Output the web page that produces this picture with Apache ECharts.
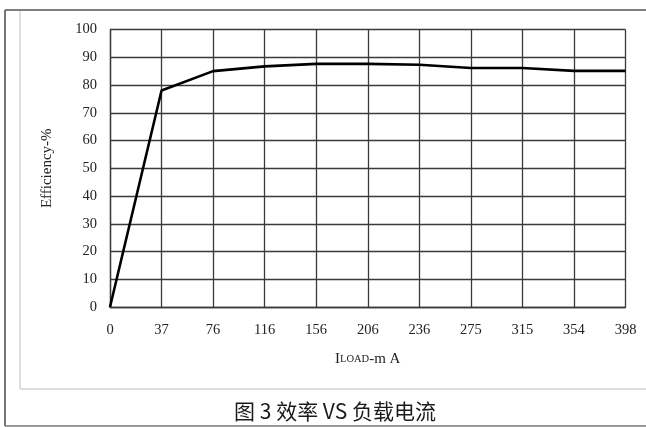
<!DOCTYPE html>
<html>
<head>
<meta charset="utf-8">
<script src="https://cdn.jsdelivr.net/npm/echarts@6/dist/echarts.min.js"></script>
<style>
html,body{margin:0;padding:0;background:#fff;}
#chart{width:646px;height:427px;}
</style>
</head>
<body>
<div id="chart"></div>
<script>
var loadCategories = ['0', '37', '76', '116', '156', '206', '236', '275', '315', '354', '398'];
var efficiencyValues = [0, 78, 85, 86.7, 87.6, 87.6, 87.3, 86.1, 86.1, 85.1, 85.1];
var yTicks = { min: 0, max: 100, interval: 10 };
var yAxisTitle = 'Efficiency-%';
var caption = '图 3 效率 VS 负载电流';

var chart = echarts.init(document.getElementById('chart'), null, { renderer: 'canvas' });
var serif = '"Liberation Serif", "DejaVu Serif", serif';
var gridColor = '#3a3a3a';

chart.setOption({
  backgroundColor: '#ffffff',
  animation: false,
  grid: { left: 110, right: 20.5, top: 29.5, bottom: 120, containLabel: false },
  xAxis: {
    type: 'category',
    data: loadCategories,
    boundaryGap: false,
    axisLine: { show: true, lineStyle: { color: gridColor, width: 1.3 } },
    axisTick: { show: false },
    axisLabel: { color: '#222', fontFamily: serif, fontSize: 14.5, margin: 16, interval: 0 },
    splitLine: { show: true, lineStyle: { color: gridColor, width: 1.3 } },
    name: '{a|I}{b|LOAD}{a|-m A}',
    nameLocation: 'middle',
    nameGap: 45,
    nameTextStyle: {
      rich: {
        a: { fontFamily: serif, fontSize: 15, color: '#222' },
        b: { fontFamily: serif, fontSize: 10.5, color: '#222' }
      }
    }
  },
  yAxis: {
    type: 'value',
    min: yTicks.min,
    max: yTicks.max,
    interval: yTicks.interval,
    axisLine: { show: true, lineStyle: { color: gridColor, width: 1.3 } },
    axisTick: { show: false },
    axisLabel: { color: '#222', fontFamily: serif, fontSize: 14.5, margin: 13 },
    splitLine: { show: true, lineStyle: { color: gridColor, width: 1.3 } },
    name: yAxisTitle,
    nameLocation: 'middle',
    nameGap: 55,
    nameRotate: 90,
    nameTextStyle: { fontFamily: serif, fontSize: 15, color: '#222' }
  },
  series: [{
    type: 'line',
    data: efficiencyValues,
    symbol: 'none',
    lineStyle: { color: '#000', width: 2.6 },
    z: 5
  }],
  graphic: [
    { type: 'line', shape: { x1: 20, y1: 11, x2: 20, y2: 389 }, style: { stroke: '#dedede', lineWidth: 2 }, silent: true },
    { type: 'line', shape: { x1: 20, y1: 389, x2: 646, y2: 389 }, style: { stroke: '#dedede', lineWidth: 2 }, silent: true },
    { type: 'line', shape: { x1: 5, y1: 10, x2: 646, y2: 10 }, style: { stroke: '#555', lineWidth: 1.6 }, silent: true },
    { type: 'line', shape: { x1: 5, y1: 10, x2: 5, y2: 426 }, style: { stroke: '#555', lineWidth: 1.6 }, silent: true },
    { type: 'line', shape: { x1: 5, y1: 426, x2: 646, y2: 426 }, style: { stroke: '#777', lineWidth: 1.6 }, silent: true },
    {
      type: 'text',
      x: 335, y: 411,
      style: {
        text: caption,
        font: '21px "Noto Sans CJK SC", "Noto Sans", sans-serif',
        fill: '#1a1a1a',
        textAlign: 'center',
        textVerticalAlign: 'middle'
      },
      silent: true
    }
  ]
});
</script>
</body>
</html>
